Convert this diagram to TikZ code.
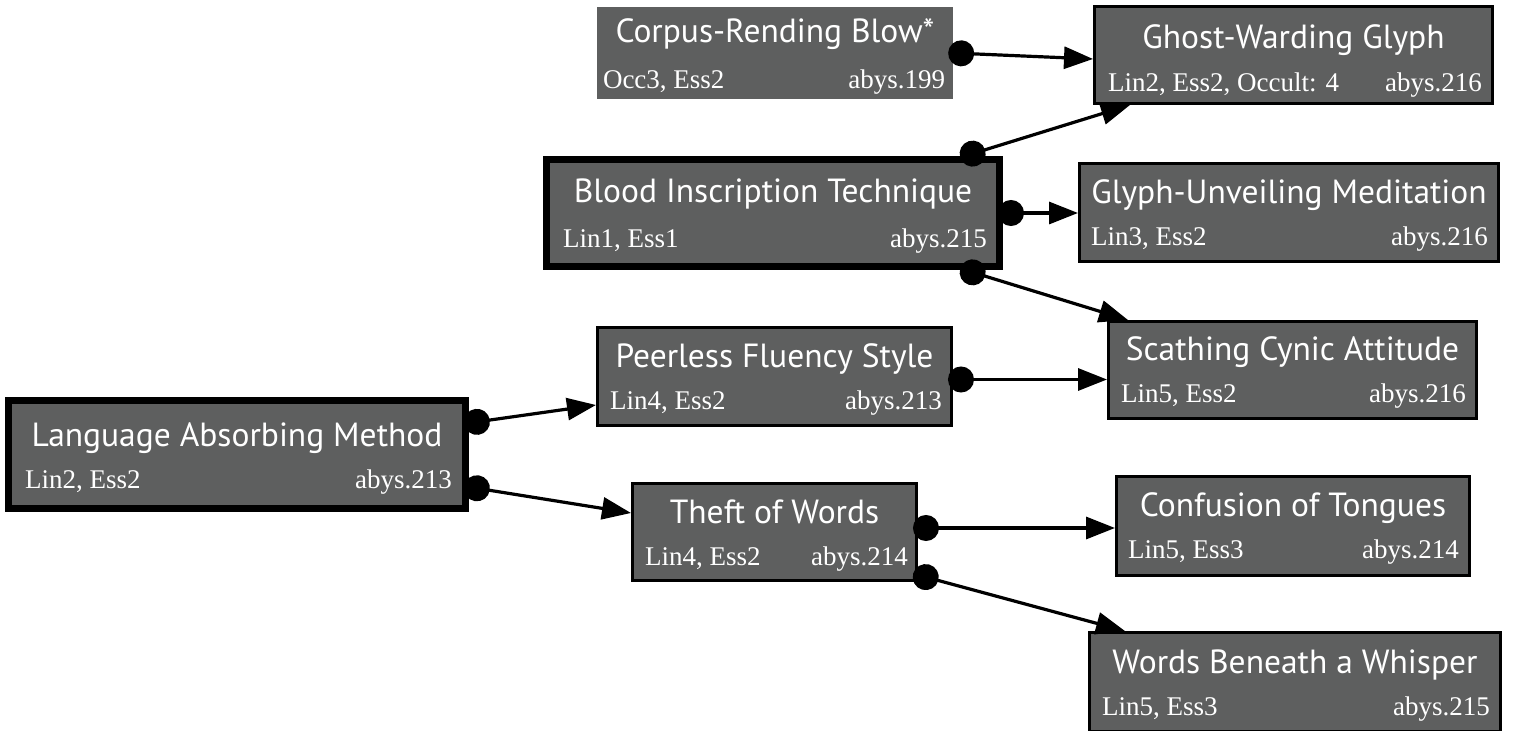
\documentclass[tikz,border=0pt]{standalone}
\usepackage{fontspec}
\usetikzlibrary{arrows.meta}
\newfontfamily\cardtitlefont{PT Sans}
\newfontfamily\cardsubfont{Liberation Serif}
\definecolor{cardfill}{RGB}{94,95,95}
\begin{document}
\begin{tikzpicture}[x=1pt,y=1pt,
  card/.style={rectangle,fill=cardfill,draw=black,inner sep=0pt},
  thin/.style={card,line width=3pt},
  thick/.style={card,line width=7pt},
  plain/.style={card,draw=none},
  ttl/.style={anchor=base,text=white,inner sep=0pt,font=\cardtitlefont\fontsize{33.5}{33.5}\selectfont},
  subl/.style={anchor=base west,text=white,inner sep=0pt,font=\cardsubfont\fontsize{27}{27}\selectfont},
  subr/.style={anchor=base east,text=white,inner sep=0pt,font=\cardsubfont\fontsize{27}{27}\selectfont},
  link/.style={line width=3.2pt,shorten <=-5pt,{Circle[length=26pt]}-{Triangle[length=29pt,width=22pt]}}]
\useasboundingbox (0,0) rectangle (1513,731);

% boxes
\node[plain, minimum width=356pt, minimum height=92pt] (corpus) at (775,678) {};
\node[thin, minimum width=398pt, minimum height=97pt] (ghost) at (1293.5,676) {};
\node[thick, minimum width=453pt, minimum height=107pt] (blood) at (773,518) {};
\node[thin, minimum width=419pt, minimum height=98pt] (unveil) at (1289,518.5) {};
\node[thin, minimum width=354pt, minimum height=98pt] (peerless) at (774.5,354.5) {};
\node[thin, minimum width=368pt, minimum height=97pt] (scathing) at (1292.5,361) {};
\node[thick, minimum width=457pt, minimum height=108pt] (lang) at (237,276.5) {};
\node[thin, minimum width=284pt, minimum height=97pt] (theft) at (774.5,199) {};
\node[thin, minimum width=353pt, minimum height=99pt] (confusion) at (1293,205) {};
\node[thin, minimum width=411pt, minimum height=99pt] (words) at (1295,49) {};

% texts
\node[ttl] (corpus-t) at ([yshift=10pt]corpus.center) {Corpus-Rending Blow*};
\node[subl] (corpus-l) at ([xshift=6pt,yshift=-36pt]corpus.west) {Occ3, Ess2};
\node[subr] (corpus-r) at ([xshift=-8pt,yshift=-36pt]corpus.east) {abys.199};

\node[ttl] (ghost-t) at ([yshift=6pt]ghost.center) {Ghost-Warding Glyph};
\node[subl] (ghost-l) at ([xshift=15pt,yshift=-37pt]ghost.west) {Lin2, Ess2, Occult: 4};
\node[subr] (ghost-r) at ([xshift=-12pt,yshift=-37pt]ghost.east) {abys.216};

\node[ttl] (blood-t) at ([yshift=10pt]blood.center) {Blood Inscription Technique};
\node[subl] (blood-l) at ([xshift=20pt,yshift=-35pt]blood.west) {Lin1, Ess1};
\node[subr] (blood-r) at ([xshift=-16pt,yshift=-35pt]blood.east) {abys.215};

\node[ttl] (unveil-t) at ([yshift=9pt]unveil.center) {Glyph-Unveiling Meditation};
\node[subl] (unveil-l) at ([xshift=13pt,yshift=-33pt]unveil.west) {Lin3, Ess2};
\node[subr] (unveil-r) at ([xshift=-12pt,yshift=-33pt]unveil.east) {abys.216};

\node[ttl] (peerless-t) at ([yshift=9pt]peerless.center) {Peerless Fluency Style};
\node[subl] (peerless-l) at ([xshift=14pt,yshift=-33pt]peerless.west) {Lin4, Ess2};
\node[subr] (peerless-r) at ([xshift=-11pt,yshift=-33pt]peerless.east) {abys.213};

\node[ttl] (scathing-t) at ([yshift=9pt]scathing.center) {Scathing Cynic Attitude};
\node[subl] (scathing-l) at ([xshift=14pt,yshift=-33pt]scathing.west) {Lin5, Ess2};
\node[subr] (scathing-r) at ([xshift=-12pt,yshift=-33pt]scathing.east) {abys.216};

\node[ttl] (lang-t) at ([yshift=8pt]lang.center) {Language Absorbing Method};
\node[subl] (lang-l) at ([xshift=20pt,yshift=-34pt]lang.west) {Lin2, Ess2};
\node[subr] (lang-r) at ([xshift=-17pt,yshift=-34pt]lang.east) {abys.213};

\node[ttl] (theft-t) at ([yshift=8pt]theft.center) {Theft of Words};
\node[subl] (theft-l) at ([xshift=14pt,yshift=-34pt]theft.west) {Lin4, Ess2};
\node[subr] (theft-r) at ([xshift=-10pt,yshift=-34pt]theft.east) {abys.214};

\node[ttl] (confusion-t) at ([yshift=9pt]confusion.center) {Confusion of Tongues};
\node[subl] (confusion-l) at ([xshift=13pt,yshift=-33pt]confusion.west) {Lin5, Ess3};
\node[subr] (confusion-r) at ([xshift=-12pt,yshift=-33pt]confusion.east) {abys.214};

\node[ttl] (words-t) at ([yshift=8pt]words.center) {Words Beneath a Whisper};
\node[subl] (words-l) at ([xshift=14pt,yshift=-34pt]words.west) {Lin5, Ess3};
\node[subr] (words-r) at ([xshift=-12pt,yshift=-34pt]words.east) {abys.215};

% connector ports
\coordinate (peerless-out) at ([yshift=-3pt]peerless.east);
\coordinate (theft-out) at ([yshift=4pt]theft.east);

% connectors
\draw[link] (corpus.east) -- ([yshift=-4pt]ghost.west);
\draw[link] ([xshift=-38pt]blood.north east) -- ([xshift=37pt]ghost.south west);
\draw[link] (blood.east) -- (unveil.west |- blood.east);
\draw[link] ([xshift=-38pt]blood.south east) -- ([xshift=21pt]scathing.north west);
\draw[link] (peerless-out) -- (scathing.west |- peerless-out);
\draw[link] ([yshift=31.5pt]lang.east) -- ([yshift=-28.5pt]peerless.west);
\draw[link] ([yshift=-32.5pt]lang.east) -- ([yshift=19pt]theft.west);
\draw[link] (theft-out) -- (confusion.west |- theft-out);
\draw[link] ([yshift=-43pt]theft.east) -- ([xshift=37pt]words.north west);
\end{tikzpicture}
\end{document}
